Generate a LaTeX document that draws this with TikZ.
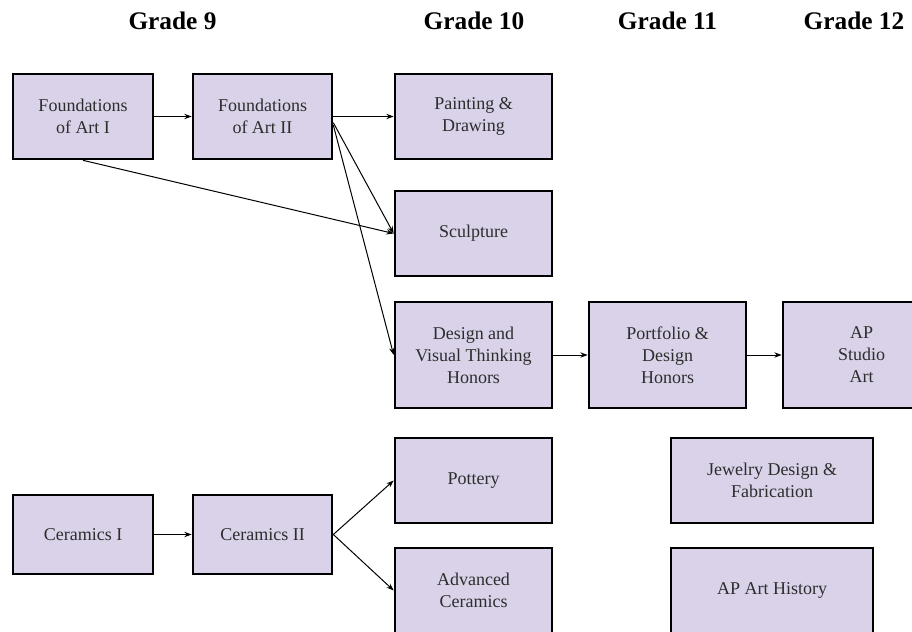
\documentclass[tikz,border=0pt]{standalone}
\usepackage{fontspec}
\setmainfont{Liberation Serif}
\usepackage{tikz}
\usetikzlibrary{arrows.meta}
\definecolor{lilas}{RGB}{217,210,233}
\definecolor{encre}{RGB}{45,45,45}
\tikzset{
  course/.style={draw=black, line width=2pt, fill=lilas, text=encre, align=center,
    minimum width=105pt, minimum height=63.75pt, inner sep=2pt,
    font=\fontsize{13.5}{16.5}\selectfont},
  wide/.style={minimum width=117.75pt},
  wider/.style={minimum width=151.5pt},
  grade/.style={anchor=base, font=\fontsize{19}{22}\selectfont\bfseries},
  link/.style={line width=0.75pt, -{Stealth[length=5.5pt,width=4pt]}}
}
\begin{document}
\begin{tikzpicture}[x=0.75pt,y=-0.75pt]
\clip (0,0) rectangle (912,631);

\node[grade] (g9) at (172.5,30) {Grade 9};
\node[grade] (g10) at (474,30) {Grade 10};
\node[grade] (g11) at (667.5,30) {Grade 11};
\node[grade] (g12) at (854,30) {Grade 12};

\node[course] (fa1) at (83,116.5) {Foundations\\of Art I};
\node[course, minimum width=104.25pt] (fa2) at (262.5,116.5) {Foundations\\of Art II};
\node[course, wide] (paint) at (473.5,116.5) {Painting \&\\Drawing};
\node[course, wide] (sculpt) at (473.5,233.5) {Sculpture};
\node[course, wide, minimum height=79.5pt] (design) at (473.5,355) {Design and\\Visual Thinking\\Honors};
\node[course, wide, minimum height=79.5pt] (portf) at (667.5,355) {Portfolio \&\\Design\\Honors};
\node[course, wide, minimum height=79.5pt] (apstudio) at (861.5,355) {AP\\Studio\\Art};
\node[course, wide] (pottery) at (473.5,480.5) {Pottery};
\node[course, wide] (advcer) at (473.5,590.5) {Advanced\\Ceramics};
\node[course, wider] (jewel) at (772,480.5) {Jewelry Design \&\\Fabrication};
\node[course, wider] (aphist) at (772,590.5) {AP Art History};
\node[course, minimum height=59.25pt] (cer1) at (83,534.5) {Ceramics I};
\node[course, minimum width=104.25pt, minimum height=59.25pt] (cer2) at (262.5,534.5) {Ceramics II};

\draw[link] (fa1) -- (fa2);
\draw[link] (fa2) -- (paint);
\draw[link] (fa1.south) -- (sculpt.west);
\draw[link] (fa2.-5) -- (sculpt.west);
\draw[link] (fa2.-7) -- (design.west);
\draw[link] (design) -- (portf);
\draw[link] (portf) -- (apstudio);

\draw[link] (cer1) -- (cer2);
\draw[link] (cer2.east) -- (pottery.west);
\draw[link] (cer2.east) -- (advcer.west);
\end{tikzpicture}
\end{document}
